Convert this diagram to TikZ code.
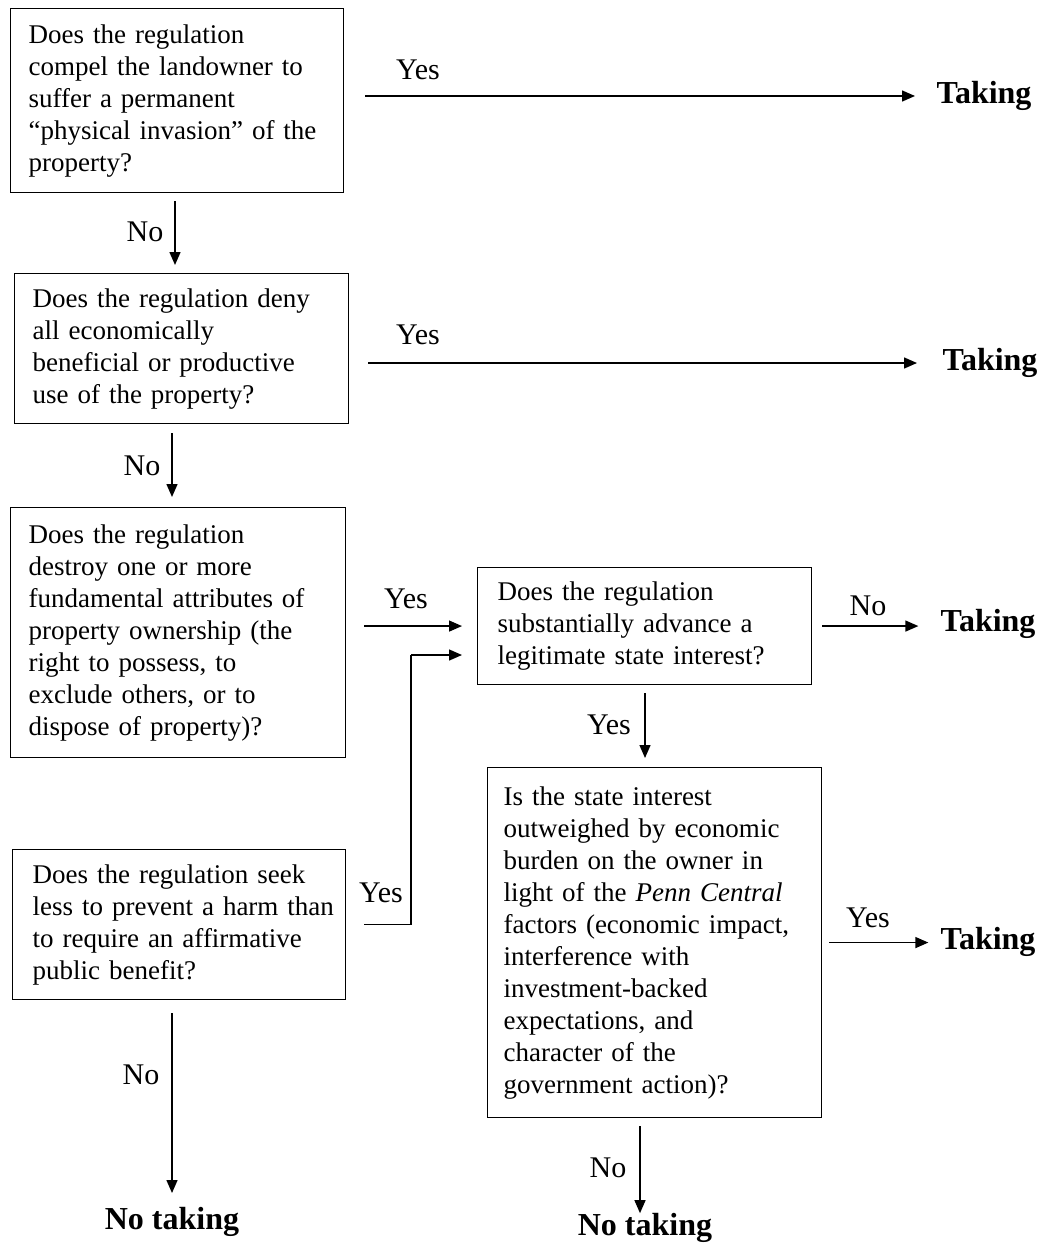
\documentclass[tikz,border=0pt]{standalone}
\usepackage{fontspec}
\setmainfont{Liberation Serif}
\usetikzlibrary{arrows.meta,calc}
\tikzset{
  qbox/.style={draw, line width=1.1pt, anchor=north west, align=left, inner ysep=0pt,
    font=\fontsize{27pt}{32pt}\selectfont},
  lbl/.style={font=\fontsize{30pt}{34pt}\selectfont, inner sep=0pt},
  outc/.style={font=\bfseries\fontsize{32pt}{36pt}\selectfont, inner sep=0pt},
  arr/.style={line width=1.4pt, -{Triangle[length=13pt,width=11pt]}}
}
\begin{document}
\begin{tikzpicture}[x=1pt,y=-1pt]
\useasboundingbox (0,0) rectangle (1043,1244);
% boxes
\node[qbox, inner xsep=18pt, text width=297pt, minimum width=333pt, minimum height=184pt] (b1) at (10,8)
 {\mbox{Does the regulation}\\\mbox{compel the landowner to}\\\mbox{suffer a permanent}\\\mbox{“physical invasion” of the}\\\mbox{property?}};
\node[qbox, inner xsep=18pt, text width=298pt, minimum width=334pt, minimum height=150pt] (b2) at (14,273)
 {\mbox{Does the regulation deny}\\\mbox{all economically}\\\mbox{beneficial or productive}\\\mbox{use of the property?}};
\node[qbox, inner xsep=18pt, text width=299pt, minimum width=335pt, minimum height=250pt] (b3) at (10,507)
 {\mbox{Does the regulation}\\\mbox{destroy one or more}\\\mbox{fundamental attributes of}\\\mbox{property ownership (the}\\\mbox{right to possess, to}\\\mbox{exclude others, or to}\\\mbox{dispose of property)?}};
\node[qbox, inner xsep=20pt, text width=294pt, minimum width=334pt, minimum height=117pt] (b4) at (477,567)
 {\mbox{Does the regulation}\\\mbox{substantially advance a}\\\mbox{legitimate state interest?}};
\node[qbox, inner xsep=20pt, text width=293pt, minimum width=333pt, minimum height=150pt] (b5) at (12,849)
 {\mbox{Does the regulation seek}\\\mbox{less to prevent a harm than}\\\mbox{to require an affirmative}\\\mbox{public benefit?}};
\node[qbox, inner xsep=16pt, text width=302pt, minimum width=334pt, minimum height=350pt] (b6) at (487,767)
 {\mbox{Is the state interest}\\\mbox{outweighed by economic}\\\mbox{burden on the owner in}\\\mbox{light of the \textit{Penn Central}}\\\mbox{factors (economic impact,}\\\mbox{interference with}\\\mbox{investment-backed}\\\mbox{expectations, and}\\\mbox{character of the}\\\mbox{government action)?}};
% outcomes
\node[outc] (t1) at (984,96) {Taking};
\node[outc] (t2) at (990,363) {Taking};
\node[outc] (t3) at (988,624) {Taking};
\node[outc] (t4) at (988,942) {Taking};
\node[outc] (nt1) at (172,1222) {No taking};
\node[outc] (nt2) at (645,1228) {No taking};
% coordinates
\coordinate (y1s) at (365,96);
\coordinate (y2s) at (368,363);
\coordinate (bk) at (411,655);
% arrows
\draw[arr] (y1s) -- (t1.west -| 915,0);
\draw[arr] (y2s) -- (t2.west -| 917,0);
\draw[arr, shorten <=8pt, shorten >=8pt] (b1.south -| 175,0) -- (b2.north -| 175,0);
\draw[arr, shorten <=9pt, shorten >=10pt] (b2.south -| 172,0) -- (b3.north -| 172,0);
\draw[arr, shorten <=18pt, shorten >=15pt] (b4.west -| b3.east) -- (b4.west);
\draw[line width=1.4pt, shorten <=18pt] (b5.east) -- (bk |- b5.east) -- (bk);
\draw[arr, shorten >=15pt] (bk) -- (b4.west |- bk);
\draw[arr, shorten <=10pt, shorten >=22pt] (b4.east) -- (b4.east -| t3.west);
\draw[arr, shorten <=8pt, shorten >=9pt] (b4.south -| 645,0) -- (b6.north -| 645,0);
\draw[arr, shorten <=7pt, shorten >=12pt] (b6.east) -- (b6.east -| t4.west);
\draw[arr, shorten <=13pt] (b5.south -| nt1.north) -- (nt1.north |- 0,1193);
\draw[arr, shorten <=8pt] (b6.south -| 640,0) -- (nt2.north -| 640,0);
% labels
\node[lbl] (l1) at (418,70) {Yes};
\node[lbl] (l2) at (418,335) {Yes};
\node[lbl] (l3) at (406,599) {Yes};
\node[lbl] (l4) at (381,893) {Yes};
\node[lbl] (l5) at (868,606) {No};
\node[lbl] (l6) at (609,725) {Yes};
\node[lbl] (l7) at (868,918) {Yes};
\node[lbl] (l8) at (145,232) {No};
\node[lbl] (l9) at (142,466) {No};
\node[lbl] (l10) at (141,1075) {No};
\node[lbl] (l11) at (608,1168) {No};
\end{tikzpicture}
\end{document}
